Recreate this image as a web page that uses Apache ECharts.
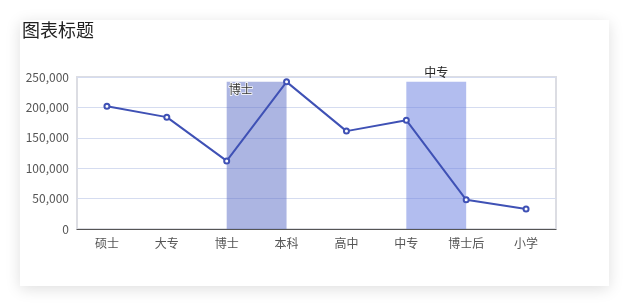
<!DOCTYPE html>
<html><head><meta charset="utf-8">
<script src="https://cdn.jsdelivr.net/npm/echarts@6/dist/echarts.min.js"></script>
<style>
html,body{margin:0;padding:0;background:#fff;width:629px;height:306px;overflow:hidden;}
#card{position:absolute;left:20px;top:20px;width:589px;height:266px;background:#fff;box-shadow:0 3px 14px rgba(0,0,0,0.13);}
#main{position:absolute;left:0;top:0;width:629px;height:306px;}
</style></head>
<body>
<div id="card"></div>
<div id="main"></div>
<script>
var categories = ['硕士','大专','博士','本科','高中','中专','博士后','小学'];
var values = [202000, 184000, 112000, 242000, 161000, 179000, 48000, 33000];
var areaStarts = ['博士','中专'];
var areaEnds = ['本科','博士后'];
var yTicks = [0, 50000, 100000, 150000, 200000, 250000];
var areaTop = Math.max.apply(null, values);

var chart = echarts.init(document.getElementById('main'), null, {renderer:'canvas'});
chart.setOption({
  backgroundColor: 'transparent',
  animation: false,
  title: {text:'图表标题', left: 17, top: 16, textStyle:{fontSize:18, fontWeight:'normal', color:'#222', fontFamily:'Noto Sans CJK SC'}},
  grid: {left: 77, right: 73, top: 77, bottom: 77, show: true, borderColor:'#dcdde3', borderWidth: 2, backgroundColor:'transparent'},
  xAxis: {
    type:'category', data: categories, boundaryGap: true,
    axisLine:{lineStyle:{color:'#555'}},
    axisTick:{lineStyle:{color:'#555'}},
    axisLabel:{color:'#555', fontSize:12, fontFamily:'Noto Sans CJK SC', margin:8}
  },
  yAxis: {
    type:'value', min: yTicks[0], max: yTicks[yTicks.length-1], interval: yTicks[1]-yTicks[0],
    axisLine:{show:false},
    axisLabel:{color:'#555', fontSize:12, fontFamily:'Noto Sans CJK SC', formatter: function(v){return v.toLocaleString('en-US');}},
    splitLine:{lineStyle:{color:'#d5dcf0'}}
  },
  series: [{
    type:'line', data: values,
    symbol:'emptyCircle', symbolSize:5,
    lineStyle:{color:'#3f51b5', width:2},
    itemStyle:{color:'#3f51b5', borderWidth:1.5},
    markArea: {
      silent: true,
      data: [
        [{name: areaStarts[0], xAxis: areaStarts[0], yAxis: areaTop,
          itemStyle:{color:'rgba(98,116,200,0.53)'},
          label:{position:'insideTopLeft', color:'#333', fontSize:12, fontFamily:'Noto Sans CJK SC', textBorderColor:'#fff', textBorderWidth:1.5, distance:2}},
         {xAxis: areaEnds[0], yAxis: 0}],
        [{name: areaStarts[1], xAxis: areaStarts[1], yAxis: areaTop,
          itemStyle:{color:'rgba(110,130,225,0.53)'},
          label:{position:'top', color:'#222', fontSize:12, fontFamily:'Noto Sans CJK SC', distance:3}},
         {xAxis: areaEnds[1], yAxis: 0}]
      ]
    }
  }]
});
</script>
</body></html>
